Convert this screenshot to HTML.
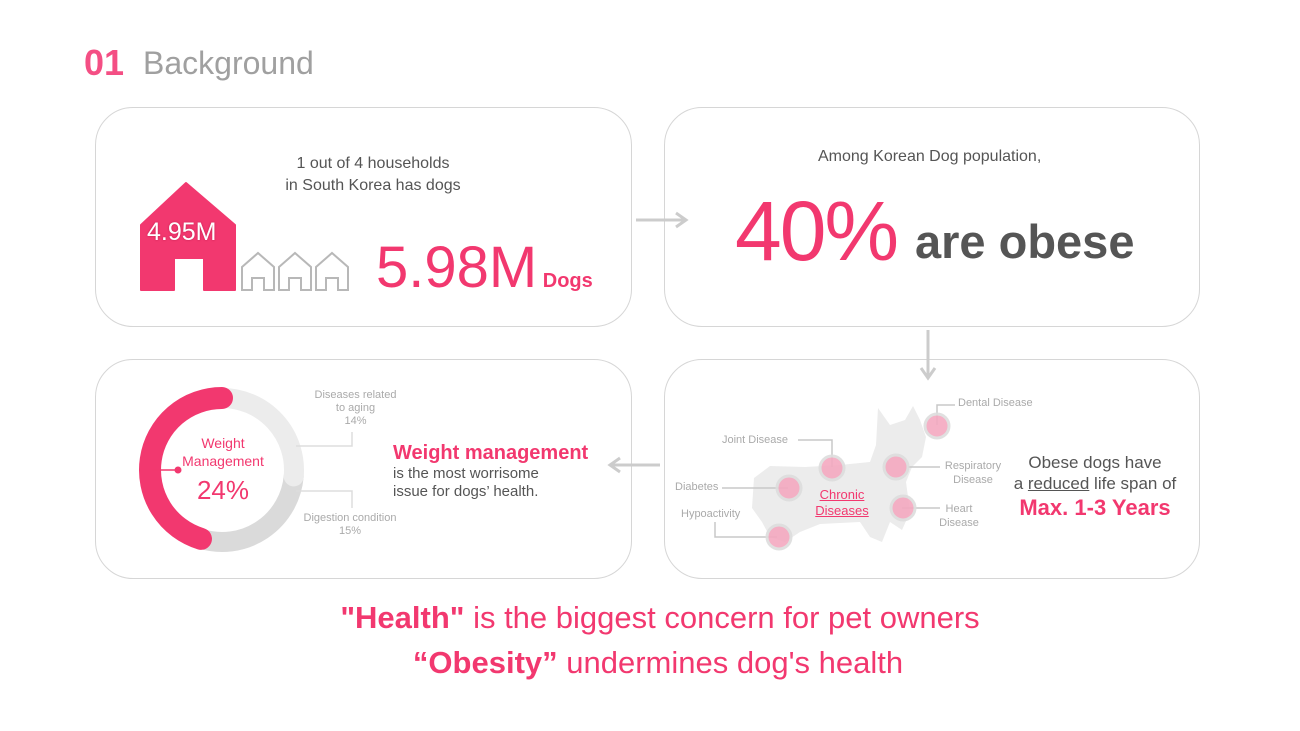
<!DOCTYPE html>
<html><head><meta charset="utf-8"><style>
body{margin:0;width:1300px;height:731px;background:#fff;overflow:hidden;font-family:"Liberation Sans","Noto Sans CJK KR",sans-serif;position:relative}
.abs{position:absolute}
.card{position:absolute;border:1.5px solid #d6d6d6;border-radius:38px;background:#fff;box-sizing:border-box}
.pink{color:#f2386f}
.t{position:absolute;white-space:nowrap}
</style></head><body>
<div class="t" style="left:84px;top:42px;font-size:36px;font-weight:bold;color:#f44f84">01</div>
<div class="t" style="left:143px;top:45px;font-size:32px;color:#a0a0a0;font-weight:300">Background</div>

<div class="card" style="left:95px;top:107px;width:537px;height:220px"></div>
<div class="card" style="left:664px;top:107px;width:536px;height:220px"></div>
<div class="card" style="left:95px;top:359px;width:537px;height:220px"></div>
<div class="card" style="left:664px;top:359px;width:536px;height:220px"></div>

<div class="t" style="left:258px;top:153px;width:230px;text-align:center;font-size:16px;color:#555;line-height:22px">1 out of 4 households<br>in South Korea has dogs</div>
<svg class="abs" style="left:0;top:0" width="1300" height="731">
<path d="M186 183 L235 225 L235 290 L204 290 L204 258 L174 258 L174 290 L141 290 L141 225 Z" fill="#f2386f" stroke="#f2386f" stroke-linejoin="round" stroke-width="2"/>
<g fill="none" stroke="#b8b8b8" stroke-width="2">
<path d="M242 267 L258 253 L274 267 L274 290 L264 290 L264 278 L252 278 L252 290 L242 290 Z"/>
<path d="M279 267 L295 253 L311 267 L311 290 L301 290 L301 278 L289 278 L289 290 L279 290 Z"/>
<path d="M316 267 L332 253 L348 267 L348 290 L338 290 L338 278 L326 278 L326 290 L316 290 Z"/>
</g>
<path d="M636 220 L684 220" stroke="#ccc" stroke-width="3"/><path d="M676 213 L686 220 L676 227" fill="none" stroke="#ccc" stroke-width="3"/>
<path d="M928 330 L928 376" stroke="#ccc" stroke-width="3"/><path d="M921 368 L928 378 L935 368" fill="none" stroke="#ccc" stroke-width="3"/>
<path d="M660 465 L612 465" stroke="#ccc" stroke-width="3"/><path d="M620 458 L610 465 L620 472" fill="none" stroke="#ccc" stroke-width="3"/>
</svg>
<div class="t" style="left:147px;top:218px;font-size:25px;color:#fff;text-shadow:0 0 2px #c02050">4.95M</div>
<div class="t pink" style="left:376px;top:234px;font-size:58px">5.98M<span style="font-size:20px;font-weight:bold"> Dogs</span></div>

<div class="t" style="left:818px;top:148px;font-size:16px;color:#555">Among Korean Dog population,</div>
<div class="t" style="left:735px;top:183px;font-size:84px;color:#f2386f;letter-spacing:-2px">40%</div>
<div class="t" style="left:915px;top:214px;font-size:47px;color:#555;font-weight:bold">are obese</div>

<svg class="abs" id="donut" style="left:0;top:0" width="640" height="731"></svg>
<div class="t pink" style="left:170px;top:434px;width:106px;text-align:center;font-size:14px;line-height:18px">Weight<br>Management</div>
<div class="t pink" style="left:170px;top:475px;width:106px;text-align:center;font-size:26px">24%</div>
<div class="t" style="left:308px;top:389px;width:95px;text-align:center;font-size:11px;color:#aaa;line-height:13px">Diseases related<br>to aging<br>14%</div>
<div class="t" style="left:295px;top:512px;width:110px;text-align:center;font-size:11px;color:#aaa;line-height:13px">Digestion condition<br>15%</div>
<div class="t" style="left:393px;top:442px;font-size:20px;font-weight:bold;color:#f2386f">Weight management</div>
<div class="t" style="left:393px;top:465px;font-size:15px;color:#555;line-height:18px">is the most worrisome<br>issue for dogs’ health.</div>

<svg class="abs" style="left:0;top:0" width="1300" height="731">
<path d="M878 408 L890 425 L905 420 L913 406 L920 420 L926 437 L922 457 L912 467 L906 482 L910 512 L902 530 L890 522 L882 542 L870 537 L860 522 L820 524 L800 532 L785 542 L770 537 L762 522 L752 508 L754 478 L770 466 L805 467 L840 465 L870 462 L876 445 Z" fill="#ececec"/>
<g fill="none" stroke="#c8c8c8" stroke-width="1.5">
<path d="M937 425 L937 405 L955 405"/><path d="M798 440 L832 440 L832 467"/><path d="M908 467 L940 467"/>
<path d="M722 488 L788 488"/><path d="M902 508 L940 508"/><path d="M715 522 L715 537 L777 537"/>
</g>
<g fill="#f4a9c0" stroke="#ddd" stroke-width="3" opacity="0.9">
<circle cx="937" cy="426" r="12"/><circle cx="832" cy="468" r="12"/><circle cx="896" cy="467" r="12"/>
<circle cx="789" cy="488" r="12"/><circle cx="903" cy="508" r="12"/><circle cx="779" cy="537" r="12"/>
</g>
</svg>
<div class="t" style="left:958px;top:397px;font-size:11px;color:#aaa">Dental Disease</div>
<div class="t" style="left:722px;top:434px;font-size:11px;color:#aaa">Joint Disease</div>
<div class="t" style="left:940px;top:459px;width:66px;text-align:center;font-size:11px;color:#aaa;line-height:14px">Respiratory<br>Disease</div>
<div class="t" style="left:675px;top:481px;font-size:11px;color:#aaa">Diabetes</div>
<div class="t" style="left:934px;top:502px;width:50px;text-align:center;font-size:11px;color:#aaa;line-height:14px">Heart<br>Disease</div>
<div class="t" style="left:681px;top:508px;font-size:11px;color:#aaa">Hypoactivity</div>
<div class="t pink" style="left:810px;top:487px;width:64px;text-align:center;font-size:13px;text-decoration:underline;line-height:16px">Chronic<br>Diseases</div>
<div class="t" style="left:1005px;top:452px;width:180px;text-align:center;font-size:17px;color:#555;line-height:21px">Obese dogs have<br>a <u>reduced</u> life span of</div>
<div class="t pink" style="left:1005px;top:495px;width:180px;text-align:center;font-size:22px;font-weight:bold">Max. 1-3 Years</div>

<div class="t pink" style="left:0;top:600px;width:1320px;text-align:center;font-size:31px"><b>"Health"</b> is the biggest concern for pet owners</div>
<div class="t pink" style="left:0;top:645px;width:1316px;text-align:center;font-size:31px"><b>“Obesity”</b> undermines dog's health</div>

<script>
const categories=["Weight Management","Diseases related to aging","Digestion condition"];
const values=[24,14,15];
const colors=["#f2386f","#ececec","#dadada"];
const svg=document.getElementById('donut');
const cx=222,cy=470,r=72;
const total=values.reduce((a,b)=>a+b,0);
function pt(a){const t=a*Math.PI/180;return [cx+r*Math.sin(t),cy-r*Math.cos(t)];}
function arc(a0,a1,col,w,cap){
  const p=document.createElementNS('http://www.w3.org/2000/svg','path');
  const s=pt(a0),e=pt(a1);const large=Math.abs(a1-a0)>180?1:0;const sw=a1>a0?1:0;
  p.setAttribute('d',`M${s[0]} ${s[1]} A${r} ${r} 0 ${large} ${sw} ${e[0]} ${e[1]}`);
  p.setAttribute('fill','none');p.setAttribute('stroke',col);p.setAttribute('stroke-width',w);p.setAttribute('stroke-linecap',cap);
  
  
  svg.appendChild(p);
}
const aPink=values[0]/total*360, aAge=values[1]/total*360, aDig=values[2]/total*360;
arc(0+aAge,aAge+aDig,colors[2],20,'round');
arc(0,aAge,colors[1],20,'round');
arc(360,360-aPink,colors[0],22,'round');
const g=document.createElementNS('http://www.w3.org/2000/svg','g');


g.innerHTML='<path d="M296 446 L352 446 L352 432" fill="none" stroke="#ddd" stroke-width="1.5"/><path d="M296 491 L352 491 L352 508" fill="none" stroke="#ddd" stroke-width="1.5"/><path d="M152 470 L178 470" stroke="#f2386f" stroke-width="1.5"/><circle cx="178" cy="470" r="3.5" fill="#f2386f"/>';
svg.appendChild(g);
</script>
</body></html>
